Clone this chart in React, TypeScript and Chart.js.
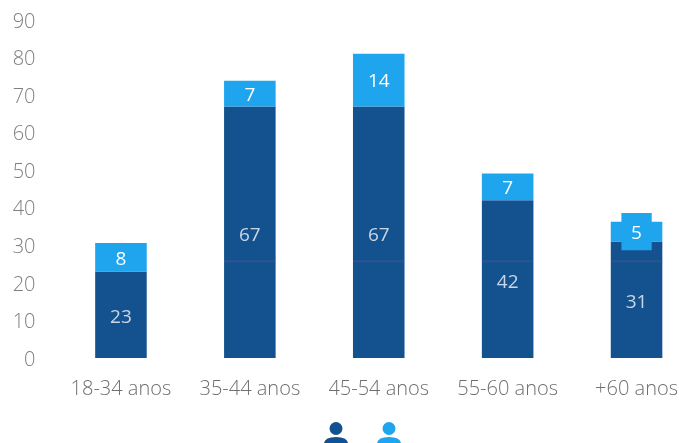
import React, { useEffect, useRef } from "react";
import { Chart, registerables } from "chart.js";

Chart.register(...registerables);

const categories = ["18-34 anos", "35-44 anos", "45-54 anos", "55-60 anos", "+60 anos"];
const menValues = [23, 67, 67, 42, 31];
const womenValues = [8, 7, 14, 7, 5];
const womenDisplayTop = [30.6, 73.8, 81, 49.1, 36.3];
const bumpRange = [null, null, null, null, [28.7, 38.6]];
const seamRange = [null, [25.5, 26], [25.5, 26], [25.5, 26], [25.5, 26]];

const DARK = "#14528f";
const LIGHT = "#1ea5ee";
const AXIS_TEXT = "#7f7f7f";
const FONT = "'Open Sans', sans-serif";

const labelPlugin = {
  id: "segmentLabels",
  afterDatasetsDraw(chart: any) {
    const { ctx } = chart;
    ctx.save();
    ctx.textAlign = "center";
    ctx.textBaseline = "middle";
    ctx.font = `19px ${FONT}`;
    const dark = chart.getDatasetMeta(0).data;
    const light = chart.getDatasetMeta(1).data;
    categories.forEach((_, i) => {
      ctx.fillStyle = "#c9d6e6";
      ctx.fillText(String(menValues[i]), dark[i].x, (dark[i].y + dark[i].base) / 2 + 3);
      ctx.fillStyle = "#ffffff";
      ctx.fillText(String(womenValues[i]), light[i].x, (light[i].y + light[i].base) / 2 + 2);
    });
    ctx.restore();
  },
};

const iconPlugin = {
  id: "personIcons",
  afterDraw(chart: any) {
    const { ctx } = chart;
    const drawPerson = (cx: number, color: string) => {
      ctx.save();
      ctx.fillStyle = color;
      ctx.beginPath();
      ctx.arc(cx, 428.5, 6.5, 0, Math.PI * 2);
      ctx.fill();
      ctx.beginPath();
      ctx.moveTo(cx - 12, 443);
      ctx.quadraticCurveTo(cx - 11, 437, cx, 437);
      ctx.quadraticCurveTo(cx + 11, 437, cx + 12, 443);
      ctx.closePath();
      ctx.fill();
      ctx.restore();
    };
    drawPerson(336, DARK);
    drawPerson(389, LIGHT);
  },
};

export default function App() {
  const ref = useRef<HTMLCanvasElement>(null);

  useEffect(() => {
    const menRanges = menValues.map((v) => [0, v]);
    const womenRanges = menValues.map((v, i) => [v, womenDisplayTop[i]]);
    const chart = new Chart(ref.current as HTMLCanvasElement, {
      type: "bar",
      data: {
        labels: categories,
        datasets: [
          { label: "Homens", data: menRanges as any, backgroundColor: DARK, grouped: false, barPercentage: 0.4, categoryPercentage: 1, order: 3 },
          { label: "Mulheres", data: womenRanges as any, backgroundColor: LIGHT, grouped: false, barPercentage: 0.4, categoryPercentage: 1, order: 2 },
          { label: "bump", data: bumpRange as any, backgroundColor: LIGHT, grouped: false, barPercentage: 0.235, categoryPercentage: 1, order: 1 },
          { label: "seam", data: seamRange as any, backgroundColor: "rgba(140,100,150,0.18)", grouped: false, barPercentage: 0.4, categoryPercentage: 1, order: 0 },
        ],
      } as any,
      options: {
        responsive: false,
        animation: false,
        layout: { padding: { top: 20, left: 0, right: 0, bottom: 0 } },
        plugins: { legend: { display: false }, tooltip: { enabled: false } },
        scales: {
          x: {
            grid: { display: false },
            border: { display: false },
            afterFit: (s: any) => { s.height = 85; },
            ticks: { color: "#6f6f6f", font: { family: FONT, size: 20, weight: 300 }, padding: 11, maxRotation: 0, autoSkip: false },
          },
          y: {
            min: 0,
            max: 90,
            grid: { display: false },
            border: { display: false },
            afterFit: (s: any) => { s.width = 56.5; s.paddingTop = 0; s.paddingBottom = 0; },
            ticks: { stepSize: 10, color: AXIS_TEXT, font: { family: FONT, size: 20, weight: 300 }, padding: 13, labelOffset: 2 },
          },
        },
      } as any,
      plugins: [labelPlugin, iconPlugin],
    });
    return () => chart.destroy();
  }, []);

  return (
    <div style={{ position: "absolute", left: 0, top: 0, width: 679, height: 443, overflow: "hidden", background: "#fff" }}>
      <canvas ref={ref} width={701} height={443} style={{ display: "block" }} />
    </div>
  );
}
